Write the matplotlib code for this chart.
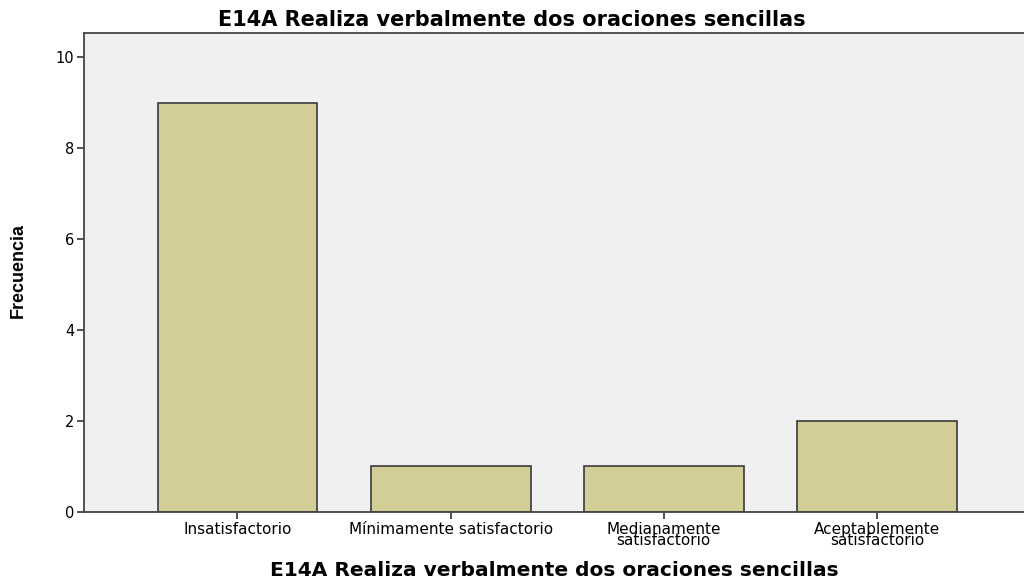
import matplotlib
matplotlib.use("Agg")
import matplotlib.pyplot as plt

# data
categories = ["Insatisfactorio", "Mínimamente satisfactorio",
              "Medianamente\nsatisfactorio", "Aceptablemente\nsatisfactorio"]
counts = [9, 1, 1, 2]
yticks = [0, 2, 4, 6, 8, 10]
title = "E14A Realiza verbalmente dos oraciones sencillas"

plt.rcParams['font.family'] = ['DejaVu Sans']

fig = plt.figure(figsize=(10.24, 5.81), dpi=100)
ax = fig.add_axes([0.082, 0.119, 0.918, 0.824])
ax.set_facecolor("#F0F0F0")

x = list(range(len(categories)))
ax.bar(x, counts, width=0.75, color="#D3CE97", edgecolor="#3a3a3a", linewidth=1.2, zorder=2)

ax.set_xlim(-0.72, 3.69)
ax.set_ylim(0, 10.53)
ax.set_yticks(yticks)
ax.set_xticks(x)
ax.set_xticklabels(categories, fontsize=11, linespacing=0.72)
ax.tick_params(axis='y', labelsize=10.5, length=5, width=1.2, color="#333333", pad=2)
ax.tick_params(axis='x', length=5, width=1.2, color="#333333", pad=2)

for s in ["left", "top", "bottom"]:
    ax.spines[s].set_color("#444444")
    ax.spines[s].set_linewidth(1.3)
ax.spines["right"].set_visible(False)

# title is centred on the figure, x label on the axes
fig.text(0.5, 0.956, title, fontsize=15, fontweight='bold', ha='center', va='baseline')
ax.set_xlabel(title, fontsize=14.5, fontweight='bold', labelpad=9)
ax.set_ylabel("Frecuencia", fontsize=13, fontweight='bold',
              family=['Liberation Sans Narrow', 'Liberation Sans'])
ax.yaxis.set_label_coords(-0.061, 0.505)

fig.savefig("out.png", dpi=100)
